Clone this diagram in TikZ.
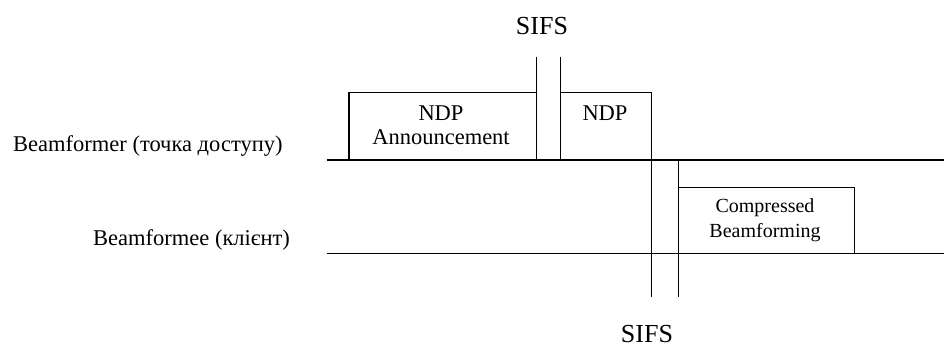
\documentclass[tikz,border=0pt]{standalone}
\usepackage{fontspec}
\setmainfont{Liberation Serif}
\begin{document}
\begin{tikzpicture}[x=1pt,y=-1pt,
  ln/.style={line width=1.5pt,black},
  frame/.style={draw,line width=1.5pt,inner sep=0pt,outer sep=0pt},
  lbl/.style={inner sep=0pt,font=\fontsize{22.5}{24.5}\selectfont},
  sml/.style={inner sep=0pt,font=\fontsize{20}{22}\selectfont},
  big/.style={inner sep=0pt,font=\fontsize{26}{28}\selectfont}]
\useasboundingbox (0,0) rectangle (944,347);
% timelines
\coordinate (t1s) at (326.7,160);
\coordinate (t1e) at (944,160);
\coordinate (t2s) at (326.7,253.3);
\coordinate (t2e) at (944,253.3);
\draw[ln] (t1s) -- (t1e);
\draw[ln] (t2s) -- (t2e);
% boxes
\node[frame,minimum width=187.7pt,minimum height=67.3pt] (ndpa) at (442.85,126.35) {};
\node[frame,minimum width=91pt,minimum height=67.3pt] (ndp) at (606.2,126.35) {};
\node[frame,minimum width=175.6pt,minimum height=66pt] (cbf) at (766.5,220.3) {};
% texts in boxes
\node[lbl,anchor=base] (tndpa1) at (441,120.7) {NDP};
\node[lbl,anchor=base] (tndpa2) at (441,145) {Announcement};
\node[lbl,anchor=base] (tndp) at (605,120.7) {NDP};
\node[sml,anchor=base] (tcbf1) at (765,212.7) {Compressed};
\node[sml,anchor=base] (tcbf2) at (765,238) {Beamforming};
% station labels
\node[lbl,anchor=base west] (bfr) at (13,151.7) {Beamformer (точка доступу)};
\node[lbl,anchor=base west] (bfe) at (93,245) {Beamformee (клієнт)};
% SIFS marks
\coordinate (s1a) at (536.7,56.7);
\coordinate (s1b) at (560.7,56.7);
\draw[ln] (s1a) -- (ndpa.north east);
\draw[ln] (s1b) -- (ndp.north west);
\coordinate (s2a) at (651.7,297.3);
\coordinate (s2b) at (678.7,297.3);
\draw[ln] (ndp.south east) -- (s2a);
\draw[ln] (cbf.south west) -- (s2b);
\draw[ln] (cbf.north west) -- (678.7,160);
\node[big,anchor=base] (sifs1) at (542,34.3) {SIFS};
\node[big,anchor=base] (sifs2) at (647,342) {SIFS};
\end{tikzpicture}
\end{document}
